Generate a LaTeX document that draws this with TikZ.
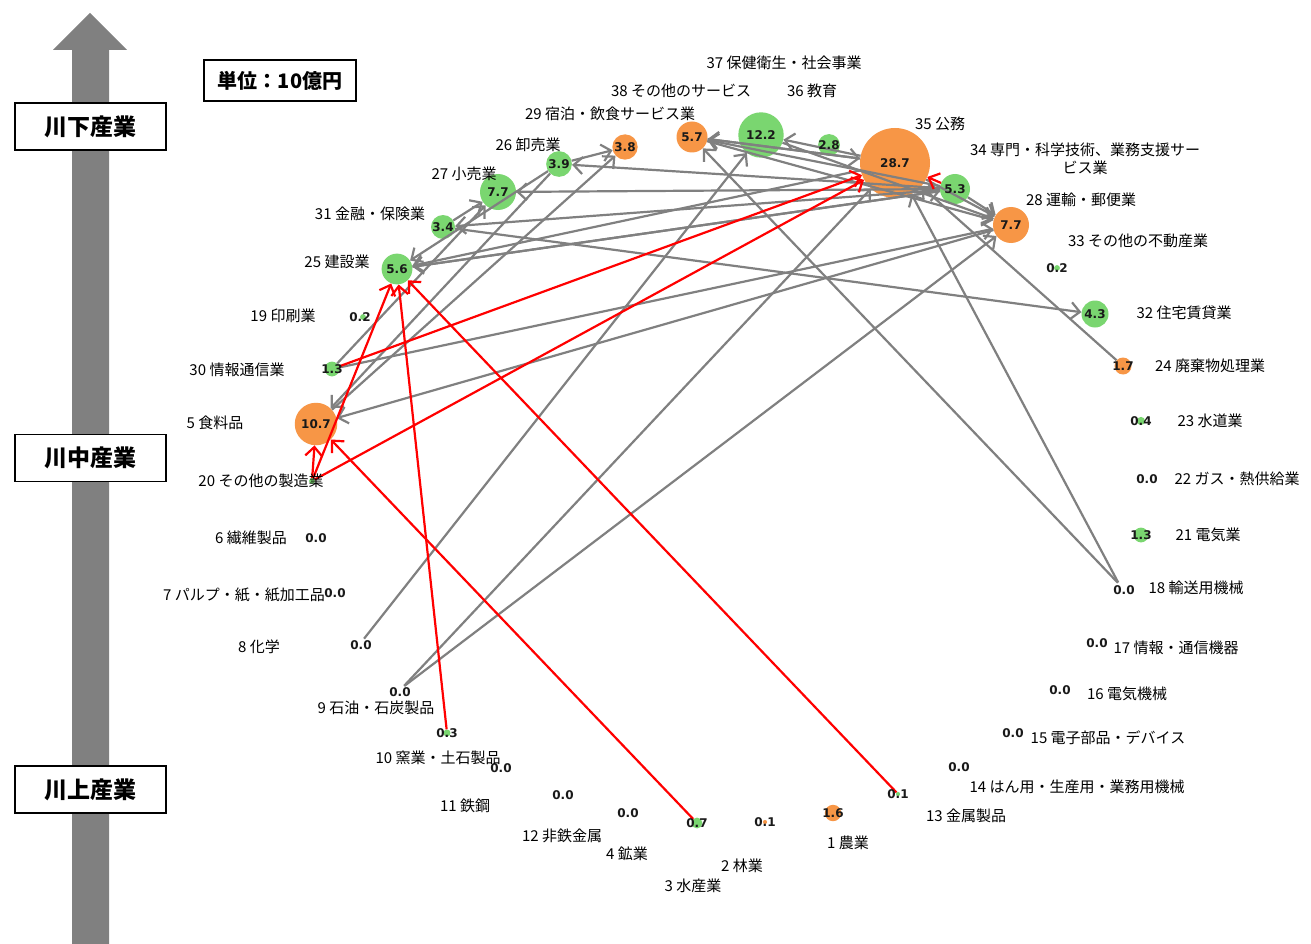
\documentclass[tikz,border=0pt]{standalone}
\usepackage{fontspec}
\setmainfont{Noto Sans CJK JP}
\newfontfamily\numfont{DejaVu Sans}
\usetikzlibrary{arrows.meta}
\definecolor{gfill}{RGB}{122,214,112}
\definecolor{ofill}{RGB}{247,150,70}
\definecolor{egray}{RGB}{128,128,128}
\definecolor{ered}{RGB}{255,0,0}
\begin{document}
\begin{tikzpicture}[x=1pt,y=-1pt,
 gn/.style={circle,fill=gfill,inner sep=0pt,minimum size=#1},
 on/.style={circle,fill=ofill,inner sep=0pt,minimum size=#1},
 zn/.style={circle,inner sep=0pt,minimum size=3pt},
 num/.style={font=\numfont\bfseries\fontsize{12}{13}\selectfont,inner sep=0pt,text=black!90},
 lab/.style={font=\fontsize{15}{18}\selectfont,inner sep=0pt},
 ge/.style={draw=egray,line width=2.2pt,-{Straight Barb[length=9pt,width=17pt]}},
 re/.style={draw=ered,line width=2.2pt,-{Straight Barb[length=9pt,width=17pt]}},
 tier/.style={draw=black,line width=1.5pt,fill=white,minimum width=151pt,minimum height=47pt,inner sep=0pt,font=\bfseries\fontsize{23}{25}\selectfont},
 unitbox/.style={draw=black,line width=1.5pt,fill=white,minimum width=152pt,minimum height=41pt,inner sep=0pt,font=\bfseries\fontsize{20}{22}\selectfont},
]
\useasboundingbox (0,0) rectangle (1311,944);
\fill[white] (0,0) rectangle (1311,944);

% vertical axis arrow
\fill[egray] (72,944) -- (72,50) -- (53,50) -- (90,13) -- (127,50) -- (109,50) -- (109,944) -- cycle;
\node[tier] (down) at (90.5,126.5) {川下産業};
\node[tier] (mid) at (90.5,458) {川中産業};
\node[tier] (up) at (90.5,789.5) {川上産業};
\node[unitbox] (unit) at (280,80.5) {単位：10億円};

% industry nodes
\node[on=16.4] (n1) at (833,813) {};
\node[on=4.1] (n2) at (765,822) {};
\node[gn=10.9] (n3) at (697,823) {};
\node[zn] (n4) at (628,809) {};
\node[on=42.5] (n5) at (316,424) {};
\node[zn] (n6) at (316,534) {};
\node[zn] (n7) at (333,589) {};
\node[zn] (n8) at (363,640) {};
\node[zn] (n9) at (403,687) {};
\node[gn=7.1] (n10) at (447,733) {};
\node[zn] (n11) at (501,764) {};
\node[zn] (n12) at (563,791) {};
\node[gn=4.1] (n13) at (898,794) {};
\node[zn] (n14) at (959,763) {};
\node[zn] (n15) at (1013,729) {};
\node[zn] (n16) at (1060,686) {};
\node[zn] (n17) at (1097,639) {};
\node[zn] (n18) at (1119,584) {};
\node[gn=5.8] (n19) at (363,317) {};
\node[gn=5.8] (n20) at (312,481) {};
\node[gn=14.8] (n21) at (1141,535) {};
\node[zn] (n22) at (1147,475) {};
\node[gn=8.2] (n23) at (1141,421) {};
\node[on=17] (n24) at (1123,366) {};
\node[gn=30.8] (n25) at (397,269) {};
\node[gn=25.7] (n26) at (559,164) {};
\node[gn=36] (n27) at (498,192) {};
\node[on=36] (n28) at (1011,225) {};
\node[on=25.3] (n29) at (625,147) {};
\node[gn=14.8] (n30) at (332,369) {};
\node[gn=24] (n31) at (443,227) {};
\node[gn=27] (n32) at (1095,314) {};
\node[gn=5.8] (n33) at (1057,268) {};
\node[gn=30] (n34) at (955,189) {};
\node[on=70] (n35) at (895,163) {};
\node[gn=21.8] (n36) at (829,145) {};
\node[gn=45.4] (n37) at (761,135) {};
\node[on=31] (n38) at (692,137) {};

% gray connectors
\draw[ge] (n26) -- (n29);
\draw[ge] (n5) -- (n29);
\draw[ge] (n34) -- (n26);
\draw[ge] (n31) -- (n27);
\draw[ge] (n30) -- (n27);
\draw[ge] (n26) -- (n25);
\draw[ge] (n34) -- (n25);
\draw[ge] (n35) -- (n25);
\draw[ge] (n34) -- (n27);
\draw[ge] (n34) -- (n31);
\draw[ge] (n31) -- (n32);
\draw[ge] (n26) -- (n5);
\draw[ge] (n28) -- (n5);
\draw[ge] (n30) -- (n28);
\draw[ge] (n25) -- (n34);
\draw[ge] (n35) -- (n38);
\draw[ge] (n34) -- (n38);
\draw[ge] (n35) -- (n37);
\draw[ge] (n38) -- (n35);
\draw[ge] (n38) -- (n28);
\draw[ge] (n37) -- (n28);
\draw[ge] (n35) -- (n28);
\draw[ge] (n34) -- (n28);
\draw[ge] (n8) -- (n37);
\draw[ge] (n9) -- (n35);
\draw[ge] (n9) -- (n28);
\draw[ge] (n18) -- (n35);
\draw[ge] (n18) -- (n38);
\draw[ge] (n24) -- (n35);

% red connectors
\draw[re] (n30) -- (n35);
\draw[re] (n20) -- (n35);
\draw[re] (n20) -- (n25);
\draw[re] (n20) -- (n5);
\draw[re] (n10) -- (n25);
\draw[re] (n3) -- (n5);
\draw[re] (n13) -- (n25);
\draw[re] (n34) -- (n35);

% values
\node[num] (v1) at (833,813) {1.6};
\node[num] (v2) at (765,822) {0.1};
\node[num] (v3) at (697,823) {0.7};
\node[num] (v4) at (628,813) {0.0};
\node[num] (v5) at (316,424) {10.7};
\node[num] (v6) at (316,538) {0.0};
\node[num] (v7) at (335,593) {0.0};
\node[num] (v8) at (361,645) {0.0};
\node[num] (v9) at (400,692) {0.0};
\node[num] (v10) at (447,733) {0.3};
\node[num] (v11) at (501,768) {0.0};
\node[num] (v12) at (563,795) {0.0};
\node[num] (v13) at (898,794) {0.1};
\node[num] (v14) at (959,767) {0.0};
\node[num] (v15) at (1013,733) {0.0};
\node[num] (v16) at (1060,690) {0.0};
\node[num] (v17) at (1097,643) {0.0};
\node[num] (v18) at (1124,590) {0.0};
\node[num] (v19) at (360,317) {0.2};
\node[num] (v21) at (1141,535) {1.3};
\node[num] (v22) at (1147,479) {0.0};
\node[num] (v23) at (1141,421) {0.4};
\node[num] (v24) at (1123,366) {1.7};
\node[num] (v25) at (397,269) {5.6};
\node[num] (v26) at (559,164) {3.9};
\node[num] (v27) at (498,192) {7.7};
\node[num] (v28) at (1011,225) {7.7};
\node[num] (v29) at (625,147) {3.8};
\node[num] (v30) at (332,369) {1.3};
\node[num] (v31) at (443,227) {3.4};
\node[num] (v32) at (1095,314) {4.3};
\node[num] (v33) at (1057,268) {0.2};
\node[num] (v34) at (955,189) {5.3};
\node[num] (v35) at (895,163) {28.7};
\node[num] (v36) at (829,145) {2.8};
\node[num] (v37) at (761,135) {12.2};
\node[num] (v38) at (692,137) {5.7};

% labels
\node[lab] (l37) at (784,63) {37 保健衛生・社会事業};
\node[lab] (l38) at (681,91) {38 その他のサービス};
\node[lab] (l36) at (812,91) {36 教育};
\node[lab] (l29) at (610,114) {29 宿泊・飲食サービス業};
\node[lab] (l35) at (940,124) {35 公務};
\node[lab,align=center] (l34) at (1085,159) {34 専門・科学技術、業務支援サー\\ビス業};
\node[lab] (l26) at (528,145) {26 卸売業};
\node[lab] (l27) at (464,174) {27 小売業};
\node[lab] (l28) at (1081,200) {28 運輸・郵便業};
\node[lab] (l31) at (370,214) {31 金融・保険業};
\node[lab] (l33) at (1138,241) {33 その他の不動産業};
\node[lab] (l25) at (337,262) {25 建設業};
\node[lab] (l32) at (1184,313) {32 住宅賃貸業};
\node[lab] (l19) at (283,316) {19 印刷業};
\node[lab] (l24) at (1210,366) {24 廃棄物処理業};
\node[lab] (l30) at (237,370) {30 情報通信業};
\node[lab] (l23) at (1210,421) {23 水道業};
\node[lab] (l5) at (215,423) {5 食料品};
\node[lab] (l22) at (1237,479) {22 ガス・熱供給業};
\node[lab] (l20) at (261,481) {20 その他の製造業};
\node[lab] (l21) at (1208,535) {21 電気業};
\node[lab] (l6) at (251,538) {6 繊維製品};
\node[lab] (l18) at (1196,588) {18 輸送用機械};
\node[lab] (l7) at (244,595) {7 パルプ・紙・紙加工品};
\node[lab] (l17) at (1176,648) {17 情報・通信機器};
\node[lab] (l8) at (259,647) {8 化学};
\node[lab] (l16) at (1127,694) {16 電気機械};
\node[lab] (l9) at (376,708) {9 石油・石炭製品};
\node[lab] (l15) at (1108,738) {15 電子部品・デバイス};
\node[lab] (l10) at (438,758) {10 窯業・土石製品};
\node[lab] (l14) at (1077,787) {14 はん用・生産用・業務用機械};
\node[lab] (l11) at (465,806) {11 鉄鋼};
\node[lab] (l13) at (966,816) {13 金属製品};
\node[lab] (l12) at (562,836) {12 非鉄金属};
\node[lab] (l1) at (848,843) {1 農業};
\node[lab] (l4) at (627,854) {4 鉱業};
\node[lab] (l2) at (742,866) {2 林業};
\node[lab] (l3) at (693,886) {3 水産業};
\end{tikzpicture}
\end{document}
